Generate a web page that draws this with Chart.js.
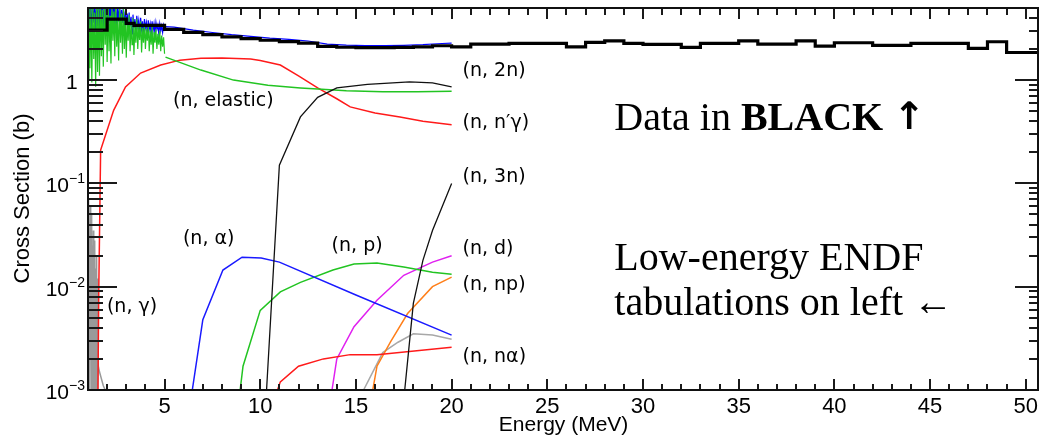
<!DOCTYPE html>
<html>
<head>
<meta charset="utf-8">
<script src="https://cdn.jsdelivr.net/npm/chart.js@4.4.0/dist/chart.umd.min.js"></script>
<style>
  html, body { margin: 0; padding: 0; background: #fff; }
  canvas { display: block; }
</style>
</head>
<body>
<canvas id="xsChart" width="1042" height="443"></canvas>
<script>
// energies in MeV, cross sections in barns

// measured total cross section (histogram: bin edges + one value per bin)
const dataEdges = [1, 2, 3, 3.4, 5, 6, 7, 8, 9, 10, 11, 12, 13, 14, 15, 16, 17, 18, 19, 20,
  21, 23, 26, 27, 28, 29, 30, 32, 33, 35, 36, 38, 39, 40, 42, 44, 47, 48, 49, 50.7];
const dataXS = [3.05, 3.9, 3.54, 3.38, 3.1, 2.9, 2.75, 2.62, 2.52, 2.43, 2.36, 2.28, 2.12, 2.08, 2.06,
  2.06, 2.07, 2.1, 2.15, 2.10, 2.23, 2.27, 2.10, 2.32, 2.40, 2.27, 2.22, 2.07, 2.27, 2.40,
  2.23, 2.40, 2.13, 2.30, 2.17, 2.27, 2.03, 2.35, 1.85];

// ENDF resonance region grid (shared by total and elastic)
const resE = [1.00, 1.05, 1.10, 1.15, 1.20, 1.25, 1.30, 1.35, 1.40, 1.45, 1.50, 1.55, 1.60, 1.65,
  1.70, 1.75, 1.80, 1.85, 1.90, 1.95, 2.00, 2.05, 2.10, 2.15, 2.20, 2.25, 2.30, 2.35, 2.40,
  2.45, 2.50, 2.55, 2.60, 2.65, 2.70, 2.75, 2.80, 2.85, 2.90, 2.95, 3.00, 3.05, 3.10, 3.15,
  3.20, 3.25, 3.30, 3.35, 3.40, 3.45, 3.50, 3.55, 3.60, 3.65, 3.70, 3.75, 3.80, 3.85, 3.90,
  3.95, 4.00, 4.05, 4.10, 4.15, 4.20, 4.25, 4.30, 4.35, 4.40, 4.45, 4.50, 4.55, 4.60, 4.65,
  4.70, 4.75, 4.80, 4.85, 4.90, 4.95, 5.00];

const totalRes = [3.0, 5.5, 3.4, 6, 2.9, 5, 3.6, 6, 3.1, 5.4, 3.3, 6, 3.0, 5.8, 3.5, 6, 3.2, 5.2,
  3.8, 6, 3.3, 5.6, 3.6, 6, 3.4, 5.3, 3.9, 6, 3.5, 5.5, 3.3, 4.9, 3.7, 5.6, 3.2, 4.8, 3.6, 5.2,
  3.1, 4.6, 3.4, 4.4, 2.9, 4.5, 3.3, 4.1, 2.8, 4.3, 3.2, 3.9, 2.9, 4.2, 3.3, 3.8, 2.8, 4.0, 3.1,
  3.7, 2.7, 3.9, 3.2, 3.6, 2.8, 3.8, 3.1, 3.5, 2.75, 3.7, 3.0, 3.5, 2.8, 3.6, 3.1, 3.4, 2.8, 3.5,
  3.0, 3.35, 2.9, 3.4, 3.1];
const totalHighE = [5.05, 5.5, 6.5, 7.5, 8.5, 9.5, 10.5, 11.5, 12.5, 13.5, 14.5, 15.5, 16.5, 17.5, 18.5, 19.5, 20];
const totalHigh = [3.3, 3.26, 3.05, 2.89, 2.75, 2.65, 2.55, 2.48, 2.39, 2.23, 2.18, 2.16, 2.16, 2.17, 2.2, 2.26, 2.28];

const elasticRes = [1.0, 6, 1.3, 5, 0.95, 6, 1.6, 4.5, 0.86, 6, 1.2, 5.5, 1.1, 6, 1.7, 4.8, 1.35, 6,
  2.2, 5, 1.5, 6, 1.9, 4.2, 1.45, 5.5, 2.4, 4.6, 1.7, 6, 2.1, 3.9, 1.55, 5.2, 2.3, 4.4, 1.8, 5,
  2.0, 4.1, 1.65, 3.8, 2.4, 4.3, 1.9, 3.6, 2.2, 4.0, 1.75, 3.4, 2.3, 3.9, 2.0, 3.3, 2.45, 3.7, 1.85,
  3.2, 2.3, 3.5, 2.0, 3.1, 2.4, 3.4, 1.9, 3.0, 2.2, 3.3, 1.8, 2.9, 2.3, 3.1, 2.0, 2.8, 2.2, 3.0,
  1.9, 2.7, 2.1, 2.6, 1.8];
const elasticHighE = [5.05, 6.9, 8.6, 10.4, 12.1, 13.0, 14.5, 16.4, 18.2, 20];
const elasticHigh = [1.67, 1.25, 1.0, 0.89, 0.84, 0.82, 0.79, 0.77, 0.77, 0.78];

const inelE = [1.52, 1.56, 1.66, 2.34, 2.96, 3.75, 4.8, 5.8, 6.9, 8.0, 9.5, 10.0, 11.05, 12.0, 13.0, 14.0, 14.7, 16.0, 17.3, 18.5, 20];
const inelXS = [0.001, 0.0083, 0.21, 0.51, 0.86, 1.17, 1.4, 1.56, 1.63, 1.64, 1.6, 1.55, 1.4, 1.1, 0.84, 0.66, 0.55, 0.48, 0.44, 0.4, 0.37];

const captureE = [1.00, 1.02, 1.04, 1.06, 1.08, 1.10, 1.12, 1.14, 1.16, 1.18, 1.20, 1.22, 1.24, 1.26,
  1.28, 1.30, 1.32, 1.34, 1.36, 1.38, 1.40, 1.42, 1.44, 1.46, 1.48, 1.50, 1.52, 1.54,
  1.60, 1.80, 1.90, 2.00, 2.20, 2.60, 3.00];
const captureXS = [0.05, 0.0006, 0.07, 0.001, 0.03, 0.0005, 0.06, 0.002, 0.04, 0.0007, 0.05, 0.0012,
  0.025, 0.0005, 0.035, 0.0009, 0.02, 0.0006, 0.028, 0.0015, 0.015, 0.0005, 0.02, 0.0008, 0.012,
  0.0006, 0.009, 0.0017, 0.0015, 0.0011, 0.001, 0.00085, 0.0008, 0.0009, 0.0007];

const n2nE = [10.33, 11.0, 12.1, 13.0, 14.0, 15.6, 17.8, 19.0, 20];
const n2nXS = [0.001, 0.15, 0.44, 0.68, 0.84, 0.91, 0.96, 0.94, 0.86];

const n3nE = [17.55, 18.0, 18.5, 19.0, 20];
const n3nXS = [0.001, 0.0069, 0.018, 0.035, 0.1];

const nAlphaE = [6.45, 7.0, 8.05, 9.05, 10.05, 11.0, 15.0, 20];
const nAlphaXS = [0.001, 0.0048, 0.0145, 0.0193, 0.019, 0.0173, 0.0083, 0.0034];

const npE = [8.95, 9.1, 10.0, 11.05, 12.1, 13.8, 14.9, 16.1, 17.5, 19.0, 20];
const npXS = [0.001, 0.0017, 0.0059, 0.0089, 0.011, 0.0145, 0.0166, 0.017, 0.0155, 0.0138, 0.0132];

const nnAlphaE = [10.9, 11.05, 12.0, 13.3, 14.7, 16.1, 20];
const nnAlphaXS = [0.001, 0.0012, 0.0017, 0.002, 0.0022, 0.0022, 0.0026];

const ndE = [13.75, 14.0, 14.9, 16.1, 17.5, 19.0, 20];
const ndXS = [0.001, 0.002, 0.0041, 0.0074, 0.0129, 0.0173, 0.0199];

const nnpE = [15.88, 16.1, 16.8, 17.7, 19.0, 20];
const nnpXS = [0.001, 0.0017, 0.0029, 0.0055, 0.01, 0.0124];

const otherE = [15.4, 16.4, 17.2, 18.0, 19.0, 20];
const otherXS = [0.001, 0.0023, 0.0029, 0.0035, 0.0034, 0.0031];

// axis ticks
const xTicks = [5, 10, 15, 20, 25, 30, 35, 40, 45, 50];
const xMinor = [1, 2, 3, 4, 6, 7, 8, 9, 11, 12, 13, 14, 16, 17, 18, 19, 21, 22, 23, 24, 26, 27, 28, 29,
  31, 32, 33, 34, 36, 37, 38, 39, 41, 42, 43, 44, 46, 47, 48, 49];
const yTicks = [0.001, 0.01, 0.1, 1];
const yTickBase = ['10', '10', '10', '1'];
const yTickExp = ['\u22123', '\u22122', '\u22121', ''];

// ---- helpers ----
const pts = (es, vs) => es.map((e, i) => ({ x: e, y: vs[i] }));
const histPts = (edges, vals) => edges.map((e, i) => ({ x: e, y: vals[Math.min(i, vals.length - 1)] }));
const line = (data, color, width, stepped) => ({
  data, borderColor: color, borderWidth: width, pointRadius: 0, tension: 0, fill: false,
  stepped: stepped || false
});

const SANS = '"Liberation Sans", Arial, sans-serif';
const LABEL = '"DejaVu Sans", sans-serif';
const SERIF = '"Liberation Serif", "Times New Roman", serif';

// text placed on the plot (energy, cross section of the left/middle point)
const notes = [
  { text: '(n, elastic)', e: 5.44, v: 0.626 },
  { text: '(n, 2n)', e: 20.57, v: 1.22 },
  { text: '(n, n\u2032\u03b3)', e: 20.57, v: 0.384 },
  { text: '(n, 3n)', e: 20.57, v: 0.115 },
  { text: '(n, d)', e: 20.57, v: 0.0231 },
  { text: '(n, np)', e: 20.57, v: 0.01035 },
  { text: '(n, n\u03b1)', e: 20.57, v: 0.00209 },
  { text: '(n, \u03b1)', e: 5.96, v: 0.0289 },
  { text: '(n, p)', e: 13.73, v: 0.0247 },
  { text: '(n, \u03b3)', e: 1.99, v: 0.00635 }
];

// inward ROOT-style tick marks
function paintTicks(chart) {
  const ctx = chart.ctx;
  const a = chart.chartArea;
  const xs = chart.scales.x;
  const ys = chart.scales.y;
  const top = Math.round(a.top);
  const bot = Math.round(a.bottom);
  const lft = Math.round(a.left);
  const rgt = Math.round(a.right);
  ctx.save();
  ctx.fillStyle = '#1a1a1a';
  const xMark = (e, lb, lt) => {
    const px = Math.round(xs.getPixelForValue(e)) - 1;
    ctx.fillRect(px, bot - lb, 2, lb);
    ctx.fillRect(px, top, 2, lt);
  };
  xTicks.forEach(e => xMark(e, 11, 12));
  xMinor.forEach(e => xMark(e, 6, 8));
  yTicks.forEach(d => {
    for (let m = 1; m <= 9; m++) {
      const v = d * m;
      if (v > 5.1) break;
      const py = Math.round(ys.getPixelForValue(v)) - 1;
      const major = m === 1;
      ctx.fillRect(lft, py, major ? 29 : 15, 2);
      ctx.fillRect(rgt - (major ? 24 : 10), py, major ? 24 : 10, 2);
    }
  });
  ctx.restore();
}

const decorations = {
  id: 'decorations',
  afterDatasetsDraw(chart) {
    const ctx = chart.ctx;
    const a = chart.chartArea;
    const x = chart.scales.x;
    const y = chart.scales.y;
    paintTicks(chart);
    ctx.save();
    // frame, 2px
    const L = Math.round(a.left) - 1, T = Math.round(a.top), R = Math.round(a.right), B = Math.round(a.bottom);
    ctx.fillStyle = '#111111';
    ctx.fillRect(L, T, R - L, 2);
    ctx.fillRect(L, B - 1, R - L, 2);
    ctx.fillRect(L, T, 2, B - T);
    ctx.fillRect(R - 2, T, 2, B - T);

    // y tick labels with superscript exponents
    ctx.fillStyle = '#000000';
    ctx.textBaseline = 'alphabetic';
    yTicks.forEach((v, i) => {
      const py = y.getPixelForValue(v);
      ctx.font = '21px ' + SANS;
      if (yTickExp[i]) {
        ctx.textAlign = 'right';
        ctx.fillText(yTickBase[i], 69, py + 9);
        ctx.textAlign = 'left';
        ctx.font = '14px ' + SANS;
        ctx.fillText(yTickExp[i], 69, py);
      } else {
        ctx.textAlign = 'left';
        ctx.fillText(yTickBase[i], 66, py + 9);
      }
    });

    // reaction labels
    ctx.font = '19px ' + LABEL;
    ctx.textAlign = 'left';
    ctx.textBaseline = 'middle';
    notes.forEach(n => ctx.fillText(n.text, x.getPixelForValue(n.e), y.getPixelForValue(n.v)));

    // comments
    ctx.textBaseline = 'alphabetic';
    const tx = x.getPixelForValue(28.5);
    const yy = y.getPixelForValue(0.328);
    ctx.font = '40px ' + SERIF;
    ctx.fillText('Data in ', tx, yy);
    let w = ctx.measureText('Data in ').width;
    ctx.font = 'bold 40px ' + SERIF;
    ctx.fillText('BLACK ', tx + w, yy);
    w += ctx.measureText('BLACK ').width;
    ctx.font = 'bold 38px "DejaVu Sans", sans-serif';
    ctx.fillText('\u2191', tx + w, yy - 1);
    ctx.font = '40px ' + SERIF;
    ctx.fillText('Low-energy ENDF', tx, y.getPixelForValue(0.0145));
    ctx.fillText('tabulations on left \u2190', tx, y.getPixelForValue(0.0053));
    ctx.restore();
  }
};

new Chart(document.getElementById('xsChart').getContext('2d'), {
  type: 'line',
  data: {
    datasets: [
      line(histPts(dataEdges, dataXS), '#000000', 3.2, true),
      line(pts(n2nE, n2nXS), '#111111', 1.3),
      line(pts(n3nE, n3nXS), '#111111', 1.3),
      line(pts(elasticHighE, elasticHigh), '#22c422', 1.5),
      line(pts(inelE, inelXS), '#ff1a1a', 1.5),
      line(pts(nAlphaE, nAlphaXS), '#1a1aff', 1.5),
      line(pts(npE, npXS), '#22c422', 1.5),
      line(pts(nnAlphaE, nnAlphaXS), '#ff1a1a', 1.5),
      line(pts(ndE, ndXS), '#e020f0', 1.5),
      line(pts(nnpE, nnpXS), '#ff7f1a', 1.5),
      line(pts(otherE, otherXS), '#a8a8a8', 1.5),
      line(pts(captureE, captureXS), '#9a9a9a', 1.5),
      line(pts(resE, elasticRes), '#22c422', 1.2),
      line(pts(resE.concat(totalHighE), totalRes.concat(totalHigh)), '#0000ff', 1.2)
    ]
  },
  options: {
    responsive: false,
    animation: false,
    devicePixelRatio: 1,
    layout: { padding: { top: 7, right: 1, left: 0, bottom: 0 } },
    plugins: { legend: { display: false }, tooltip: { enabled: false } },
    scales: {
      x: {
        type: 'linear',
        min: 1,
        max: 50.7,
        afterFit: s => { s.height = 53; },
        afterBuildTicks: s => { s.ticks = xTicks.map(v => ({ value: v })); },
        grid: { display: false, drawTicks: false },
        border: { display: false },
        ticks: { color: '#000', font: { family: SANS, size: 22 }, padding: 4, maxRotation: 0, autoSkip: false },
        title: { display: true, text: 'Energy (MeV)', color: '#000',
                 font: { family: SANS, size: 21, lineHeight: 1.2 }, padding: { top: 0, bottom: 5 } }
      },
      y: {
        type: 'logarithmic',
        min: 0.001,
        max: 5.1,
        afterFit: s => { s.width = 88; },
        grid: { display: false, drawTicks: false },
        border: { display: false },
        ticks: { display: false },
        title: { display: true, text: 'Cross Section (b)', color: '#000',
                 font: { family: SANS, size: 22, lineHeight: 1.2 }, padding: { top: 10, bottom: 0 } }
      }
    }
  },
  plugins: [decorations]
});
</script>
</body>
</html>
